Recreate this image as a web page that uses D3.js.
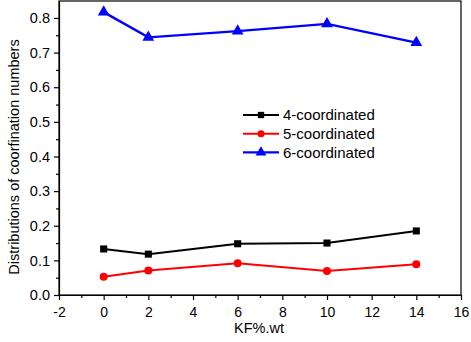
<!DOCTYPE html>
<html>
<head>
<meta charset="utf-8">
<script src="https://cdn.jsdelivr.net/npm/d3@7"></script>
<style>
  body { margin: 0; background: #fff; }
  text { font-family: "Liberation Sans", Arial, sans-serif; }
</style>
</head>
<body>
<div id="chart"></div>
<script>
// data
const kf = [0, 2, 6, 10, 14];
const coord4 = [0.133, 0.118, 0.148, 0.150, 0.185];
const coord5 = [0.053, 0.071, 0.092, 0.069, 0.089];
const coord6 = [0.817, 0.744, 0.762, 0.783, 0.729];
const seriesNames = ["4-coordinated", "5-coordinated", "6-coordinated"];
const xTicks = [-2, 0, 2, 4, 6, 8, 10, 12, 14, 16];
const yTicks = [0, 0.1, 0.2, 0.3, 0.4, 0.5, 0.6, 0.7, 0.8];

const fullWidth = 471, fullHeight = 342;
const margin = { top: 1, right: 10, bottom: 47, left: 59 };
const width = 461 - margin.left;
const height = 295 - margin.top;

const svg = d3.select("#chart").append("svg")
  .attr("width", fullWidth)
  .attr("height", fullHeight);

const g = svg.append("g")
  .attr("transform", `translate(${margin.left},${margin.top})`);

const x = d3.scaleLinear().domain([-2, 16]).range([0, width]);
const y = d3.scaleLinear().domain([0, 0.849]).range([height, 0]);

// minor ticks
const xMinor = d3.range(-1, 16, 2);
const yMinor = d3.range(0.05, 0.85, 0.1);

const xAxis = g.append("g")
  .attr("transform", `translate(0,${height})`)
  .call(d3.axisBottom(x).tickValues(xTicks).tickSize(5).tickSizeOuter(0).tickFormat(d => String(d)));
xAxis.selectAll(".tick text").attr("y", 9).attr("dy", "0.95em").style("font-size", "14px").attr("fill", "#000");

g.append("g")
  .attr("transform", `translate(0,${height})`)
  .call(d3.axisBottom(x).tickValues(xMinor).tickSize(3).tickFormat(""))
  .call(a => a.select(".domain").remove());

const yAxis = g.append("g")
  .call(d3.axisLeft(y).tickValues(yTicks).tickSize(5).tickSizeOuter(0).tickFormat(d3.format(".1f")));
yAxis.selectAll(".tick text").attr("x", -9).style("font-size", "14.5px").attr("fill", "#000");

g.append("g")
  .call(d3.axisLeft(y).tickValues(yMinor).tickSize(3).tickFormat(""))
  .call(a => a.select(".domain").remove());

g.selectAll(".domain, .tick line").attr("stroke", "#000").attr("stroke-width", 1.2);

// frame
g.append("rect")
  .attr("x", 0).attr("y", 0)
  .attr("width", width).attr("height", height)
  .attr("fill", "none")
  .attr("stroke", "#000")
  .attr("stroke-width", 1.2);

// axis labels
g.append("text")
  .attr("x", x(7) - 1)
  .attr("y", height + 38)
  .attr("text-anchor", "middle")
  .style("font-size", "14.5px")
  .text("KF%.wt");

svg.append("text")
  .attr("transform", "rotate(-90)")
  .attr("x", -157)
  .attr("y", 19)
  .attr("text-anchor", "middle")
  .style("font-size", "14.5px")
  .text("Distributions of coorfination numbers");

// series
const series = [
  { name: seriesNames[0], values: coord4, color: "#000000", shape: d3.symbolSquare, w: 2 },
  { name: seriesNames[1], values: coord5, color: "#ff0000", shape: d3.symbolCircle, w: 2 },
  { name: seriesNames[2], values: coord6, color: "#0000ff", shape: d3.symbolTriangle, w: 2.4 }
];

const line = d3.line()
  .x(d => x(d[0]))
  .y(d => y(d[1]));

series.forEach(s => {
  const pts = kf.map((k, i) => [k, s.values[i]]);
  g.append("path")
    .datum(pts)
    .attr("fill", "none")
    .attr("stroke", s.color)
    .attr("stroke-width", s.w)
    .attr("d", line);
  g.selectAll(null)
    .data(pts)
    .enter()
    .append("path")
    .attr("transform", d => `translate(${x(d[0])},${y(d[1])})`)
    .attr("d", d3.symbol().type(s.shape).size(s.shape === d3.symbolTriangle ? 60 : 50))
    .attr("fill", s.color);
});

// legend
const legend = svg.append("g").attr("transform", "translate(243,115)");
series.forEach((s, i) => {
  const row = legend.append("g").attr("transform", `translate(0,${i * 18.7})`);
  row.append("line")
    .attr("x1", 0).attr("x2", 36)
    .attr("stroke", s.color)
    .attr("stroke-width", s.w);
  row.append("path")
    .attr("transform", "translate(18,0)")
    .attr("d", d3.symbol().type(s.shape).size(s.shape === d3.symbolTriangle ? 50 : 40))
    .attr("fill", s.color);
  row.append("text")
    .attr("x", 40)
    .attr("dy", "0.35em")
    .style("font-size", "15px")
    .text(s.name);
});
</script>
</body>
</html>
